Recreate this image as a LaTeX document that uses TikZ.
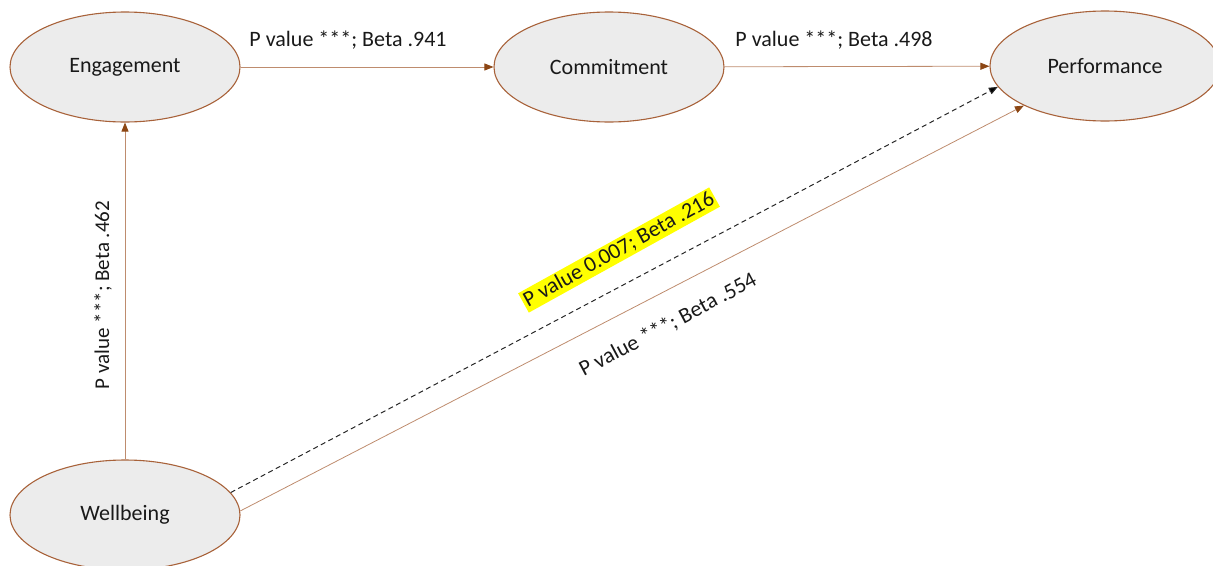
\documentclass[tikz,border=0pt]{standalone}
\usepackage{fontspec}
\setmainfont{Carlito}
\usetikzlibrary{shapes.geometric,arrows.meta}
\definecolor{rim}{RGB}{168,98,58}
\definecolor{link}{RGB}{190,140,110}
\definecolor{tipbrown}{RGB}{140,70,20}
\definecolor{bubble}{RGB}{236,236,236}
\definecolor{mark}{RGB}{255,255,0}
\tikzset{
  construct/.style={ellipse, draw=rim, line width=1.1pt, fill=bubble,
    minimum width=230pt, minimum height=110pt, inner sep=0pt,
    font=\fontsize{22}{25}\selectfont, text=black!90},
  path/.style={draw=link, line width=0.8pt,
    -{Triangle[length=9pt,width=7pt,fill=tipbrown,color=tipbrown]}},
  mediated/.style={draw=black!85, line width=1pt, dash pattern=on 5pt off 3.5pt,
    -{Triangle[length=9pt,width=7pt,fill=black]}},
  coef/.style={font=\fontsize{22}{25}\selectfont, text=black!90, inner sep=1pt}
}
\begin{document}
\begin{tikzpicture}[x=1pt,y=-1pt]
\useasboundingbox (0,0) rectangle (1213,565);

\node[construct] (eng)  at (125,67)  {Engagement};
\node[construct] (com)  at (609,67)  {Commitment};
\node[construct] (perf) at (1105,66) {Performance};
\node[construct] (wel)  at (125,515) {Wellbeing};

\draw[path] (eng) -- (com);
\draw[path] (com) -- (perf);
\draw[path] (wel) -- (eng);
\draw[mediated] (wel.12) -- (perf.191);
\draw[path] (wel.2) -- (perf.206);

\node[coef] (l1) at (348,40) {P value ***; Beta .941};
\node[coef] (l2) at (834,40) {P value ***; Beta .498};
\node[coef, rotate=90, font=\fontsize{21}{24}\selectfont] (l3) at (103,295) {P value ***; Beta .462};
\node[coef, rotate=29, fill=mark, inner sep=2pt] (l4) at (619,250) {P value 0.007; Beta .216};
\node[coef, rotate=28] (l5) at (668,325) {P value ***; Beta .554};
\end{tikzpicture}
\end{document}
